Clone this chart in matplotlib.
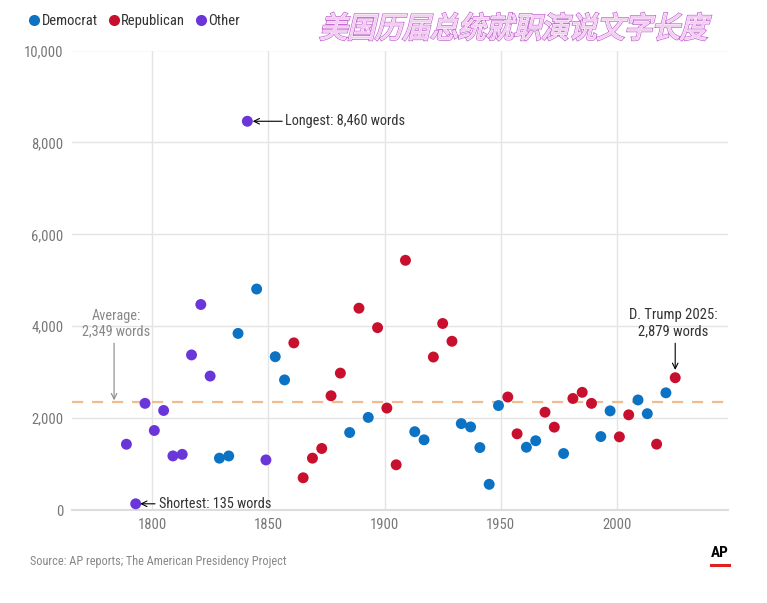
import matplotlib
matplotlib.use("Agg")
import matplotlib.pyplot as plt
from matplotlib.textpath import TextPath
from matplotlib.patches import PathPatch
from matplotlib.font_manager import FontProperties
from matplotlib.transforms import Affine2D, IdentityTransform
from matplotlib.lines import Line2D

plt.rcParams['font.family'] = ['Roboto Condensed', 'Archivo Narrow', 'DejaVu Sans']

# inaugural address word counts
years = [1789, 1793, 1797, 1801, 1805, 1809, 1813, 1817, 1821, 1825,
         1829, 1833, 1837, 1841, 1845, 1849, 1853, 1857, 1861, 1865,
         1869, 1873, 1877, 1881, 1885, 1889, 1893, 1897, 1901, 1905,
         1909, 1913, 1917, 1921, 1925, 1929, 1933, 1937, 1941, 1945,
         1949, 1953, 1957, 1961, 1965, 1969, 1973, 1977, 1981, 1985,
         1989, 1993, 1997, 2001, 2005, 2009, 2013, 2017, 2021, 2025]
words = [1431, 135, 2321, 1730, 2166, 1177, 1211, 3375, 4472, 2915,
         1128, 1176, 3843, 8460, 4809, 1090, 3336, 2831, 3637, 701,
         1128, 1339, 2486, 2979, 1686, 4392, 2015, 3968, 2218, 984,
         5434, 1704, 1527, 3329, 4059, 3672, 1880, 1808, 1359, 559,
         2273, 2459, 1658, 1366, 1507, 2128, 1803, 1229, 2427, 2561,
         2320, 1598, 2157, 1592, 2071, 2395, 2096, 1433, 2550, 2879]
party = ['O', 'O', 'O', 'O', 'O', 'O', 'O', 'O', 'O', 'O',
         'D', 'D', 'D', 'O', 'D', 'O', 'D', 'D', 'R', 'R',
         'R', 'R', 'R', 'R', 'D', 'R', 'D', 'R', 'R', 'R',
         'R', 'D', 'D', 'R', 'R', 'R', 'D', 'D', 'D', 'D',
         'D', 'R', 'R', 'D', 'D', 'R', 'R', 'D', 'R', 'R',
         'R', 'D', 'D', 'R', 'R', 'D', 'D', 'R', 'D', 'R']
party_names = {'D': 'Democrat', 'R': 'Republican', 'O': 'Other'}
party_colors = {'D': '#0c72c4', 'R': '#c8102e', 'O': '#6a35d9'}
average = 2349
x_ticks = [1800, 1850, 1900, 1950, 2000]
y_ticks = [0, 2000, 4000, 6000, 8000, 10000]
title = '美国历届总统就职演说文字长度'

fig = plt.figure(figsize=(7.67, 6.03), dpi=100)
ax = fig.add_axes([72/767, 1 - 510/603, 656/767, 459.5/603])
ax.set_xlim(1765.6, 2047.7)
ax.set_ylim(0, 10000)

for p in ['D', 'R', 'O']:
    xs = [y for y, q in zip(years, party) if q == p]
    ys = [w for w, q in zip(words, party) if q == p]
    ax.scatter(xs, ys, s=62, color=party_colors[p], edgecolors='none',
               zorder=3, clip_on=False)

ax.axhline(average, color='#f0bb8e', lw=1.6, dashes=(5, 4), zorder=2)

ax.set_xticks(x_ticks)
ax.set_yticks(y_ticks)
ax.set_yticklabels([f'{v:,}' for v in y_ticks])
ax.grid(True, color='#e4e4e4', lw=1, zorder=0)
ax.set_axisbelow(True)
ax.tick_params(length=0, labelsize=10.5, labelcolor='#777777')
ax.tick_params(axis='x', pad=6)
ax.tick_params(axis='y', pad=6)
for s in ['top', 'right', 'left']:
    ax.spines[s].set_visible(False)
ax.spines['bottom'].set_color('#dddddd')
ax.spines['bottom'].set_linewidth(1.5)

arrow_k = dict(arrowstyle='->', color='black', lw=0.8, shrinkA=0, shrinkB=0)

# longest
i = words.index(max(words))
ax.annotate('', xy=(years[i] + 2.3, words[i]), xytext=(years[i] + 15, words[i]),
            arrowprops=arrow_k)
ax.text(years[i] + 16.3, words[i], f'Longest: {words[i]:,} words',
        ha='left', va='center', fontsize=10.3, color='#333333')

# shortest
i = words.index(min(words))
ax.annotate('', xy=(years[i] + 1.9, words[i]), xytext=(years[i] + 8.3, words[i]),
            arrowprops=arrow_k)
ax.text(years[i] + 9.8, words[i], f'Shortest: {words[i]} words',
        ha='left', va='center', fontsize=10.3, color='#333333')

# average
ax.text(1784.5, 4060, f'Average:\n{average:,} words', ha='center', va='center',
        fontsize=10.3, color='#888888', linespacing=1.15)
ax.annotate('', xy=(1783.7, average + 40), xytext=(1783.7, 3630),
            arrowprops=dict(arrowstyle='->', color='#888888', lw=0.8,
                            shrinkA=0, shrinkB=0))

# latest
ax.text(years[-1] - 1, 4070, f'D. Trump {years[-1]}:\n{words[-1]:,} words',
        ha='center', va='center', fontsize=10.5, color='#333333',
        linespacing=1.15)
ax.annotate('', xy=(years[-1], words[-1] + 170), xytext=(years[-1], 3630),
            arrowprops=arrow_k)

# legend
handles = [Line2D([], [], marker='o', ls='none', ms=8, mec='none',
                  color=party_colors[p], label=party_names[p]) for p in ['D', 'R', 'O']]
fig.legend(handles=handles, loc='center left', bbox_to_anchor=(14/767, 1 - 21/603),
           ncol=3, frameon=False, fontsize=10.5, handletextpad=0.0,
           columnspacing=0.6, handlelength=1.0, labelcolor='#333333')

# title drawn as slanted outlined text
fp = FontProperties(family='Noto Sans CJK SC', weight='normal')
tp = TextPath((0, 0), title, size=26, prop=fp)
ext = tp.get_extents()
tr = (Affine2D().translate(-ext.x0, -ext.y0).skew_deg(14, 0)
      .scale(392 / (ext.width + ext.height * 0.25), 27 / ext.height)
      .translate(320, 603 - 40) + IdentityTransform())
fig.patches.append(PathPatch(tp, transform=tr, fc='none', ec='#c46ed2', lw=1.8))
fig.patches.append(PathPatch(tp, transform=tr, fc='none', ec='white', lw=0.7))
fig.patches.append(PathPatch(tp, transform=tr, fc='#f5cdf2', ec='none'))

# footer
fig.text(30/767, 1 - 561/603, 'Source: AP reports; The American Presidency Project',
         fontsize=8.8, color='#888888', va='center', ha='left')
fig.text(720/767, 1 - 553/603, 'AP', fontsize=11, fontweight='bold',
         color='black', ha='center', va='center')
fig.add_artist(Line2D([711/767, 729/767], [1 - 565/603, 1 - 565/603],
                      color='#e02020', lw=2.2))

fig.savefig('out.png', dpi=100)
